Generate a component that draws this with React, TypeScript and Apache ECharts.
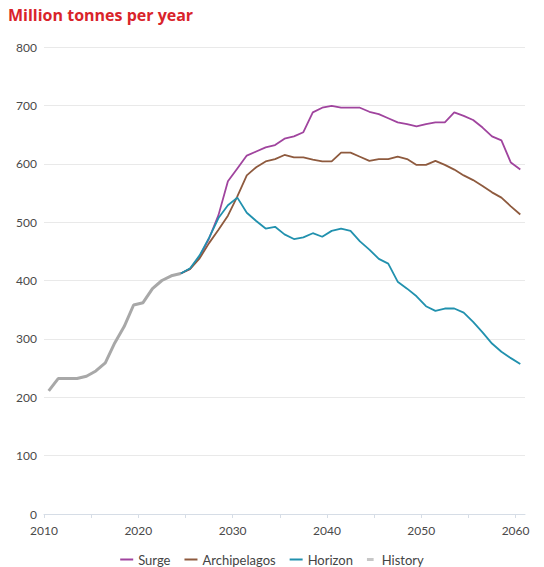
import React, { useEffect, useRef } from "react";
import * as echarts from "echarts";

const historyYears = [2010, 2011, 2012, 2013, 2014, 2015, 2016, 2017, 2018, 2019, 2020, 2021, 2022, 2023, 2024];
const historyValues = [211, 232, 232, 232, 236, 245, 259, 293, 321, 358, 362, 386, 400, 408, 412];

const scenarioYears = [
  2024, 2025, 2026, 2027, 2028, 2029, 2030, 2031, 2032, 2033, 2034, 2035, 2036, 2037, 2038, 2039, 2040, 2041, 2042, 2043,
  2044, 2045, 2046, 2047, 2048, 2049, 2050, 2051, 2052, 2053, 2054, 2055, 2056, 2057, 2058, 2059, 2060,
];
const surgeValues = [
  412, 420, 441, 472, 512, 570, 592, 614, 621, 628, 632, 643, 647, 654, 688, 696, 699, 696, 696, 696,
  689, 685, 678, 671, 668, 664, 668, 671, 671, 688, 682, 675, 662, 647, 640, 602, 590,
];
const archipelagosValues = [
  412, 420, 438, 464, 487, 511, 544, 580, 594, 604, 608, 615, 611, 611, 607, 604, 604, 619, 619, 612,
  605, 608, 608, 612, 608, 598, 598, 605, 598, 590, 580, 572, 562, 551, 542, 527, 513,
];
const horizonValues = [
  412, 421, 443, 473, 507, 529, 542, 516, 502, 489, 492, 479, 471, 474, 481, 475, 485, 489, 485, 467,
  453, 437, 429, 398, 386, 373, 356, 348, 352, 352, 345, 329, 311, 292, 278, 267, 257,
];

const xTicks = [2010, 2015, 2020, 2025, 2030, 2035, 2040, 2045, 2050, 2055, 2060];
const xLabels = [2010, 2020, 2030, 2040, 2050, 2060];

const FONT = "Lato, 'Noto Sans', sans-serif";
const TITLE_FONT = "'Open Sans', Lato, sans-serif";

// annual values plotted at mid-year
const toPoints = (years: number[], vals: number[]) => years.map((y, i) => [y + 0.5, vals[i]]);

export default function App() {
  const ref = useRef<HTMLDivElement>(null);
  useEffect(() => {
    if (!ref.current) return;
    const chart = echarts.init(ref.current, null, { renderer: "svg" });
    const lineIcon = "rect";
    chart.setOption({
      animation: false,
      backgroundColor: "#ffffff",
      title: {
        text: "Million tonnes per year",
        left: 8,
        top: 7,
        padding: 0,
        textStyle: { color: "#d9232a", fontSize: 16, fontWeight: "bold", fontFamily: TITLE_FONT },
      },
      grid: { left: 44, right: 19, top: 47, bottom: 53, containLabel: false },
      legend: {
        top: 553,
        left: "center",
        padding: 0,
        itemWidth: 13,
        itemHeight: 2,
        itemGap: 14,
        textStyle: { color: "#444", fontSize: 13, fontFamily: FONT },
        data: [
          { name: "Surge", icon: lineIcon },
          { name: "Archipelagos", icon: lineIcon },
          { name: "Horizon", icon: lineIcon },
          { name: "History", icon: "path://M0,0H20V2H0Z M0,4H20V6H0Z", itemStyle: { color: "#8f8f8f" } },
        ],
      },
      xAxis: {
        type: "value",
        min: 2010,
        max: 2061,
        interval: 5,
        axisLine: { show: true, lineStyle: { color: "#d6dde6", width: 1 } },
        axisTick: { show: true, length: 4, lineStyle: { color: "#d6dde6" }, customValues: xTicks },
        axisLabel: {
          color: "#4a4a4a",
          fontSize: 12,
          fontFamily: FONT,
          margin: 10,
          customValues: xLabels,
          formatter: (v: number) => String(v),
        },
        splitLine: { show: false },
      },
      yAxis: {
        type: "value",
        min: 0,
        max: 800,
        interval: 100,
        axisLine: { show: false },
        axisTick: { show: false },
        axisLabel: { color: "#4a4a4a", fontSize: 12, fontFamily: FONT, margin: 7 },
        splitLine: { show: true, lineStyle: { color: "#e9e9e9", width: 1 } },
      },
      series: [
        {
          name: "Surge",
          type: "line",
          data: toPoints(scenarioYears, surgeValues),
          showSymbol: false,
          symbol: "none",
          color: "#a0449e",
          lineStyle: { width: 1.8, color: "#a0449e" },
          z: 3,
        },
        {
          name: "Archipelagos",
          type: "line",
          data: toPoints(scenarioYears, archipelagosValues),
          showSymbol: false,
          symbol: "none",
          color: "#8e5a3e",
          lineStyle: { width: 1.8, color: "#8e5a3e" },
          z: 3,
        },
        {
          name: "Horizon",
          type: "line",
          data: toPoints(scenarioYears, horizonValues),
          showSymbol: false,
          symbol: "none",
          color: "#2191ae",
          lineStyle: { width: 1.8, color: "#2191ae" },
          z: 4,
        },
        {
          name: "History",
          type: "line",
          data: toPoints(historyYears, historyValues),
          showSymbol: false,
          symbol: "none",
          color: "#a8a8a8",
          lineStyle: { width: 3, color: "#a8a8a8" },
          z: 2,
        },
      ],
    });
    return () => chart.dispose();
  }, []);
  return <div ref={ref} style={{ width: 544, height: 567, position: "absolute", left: 0, top: 0 }} />;
}
